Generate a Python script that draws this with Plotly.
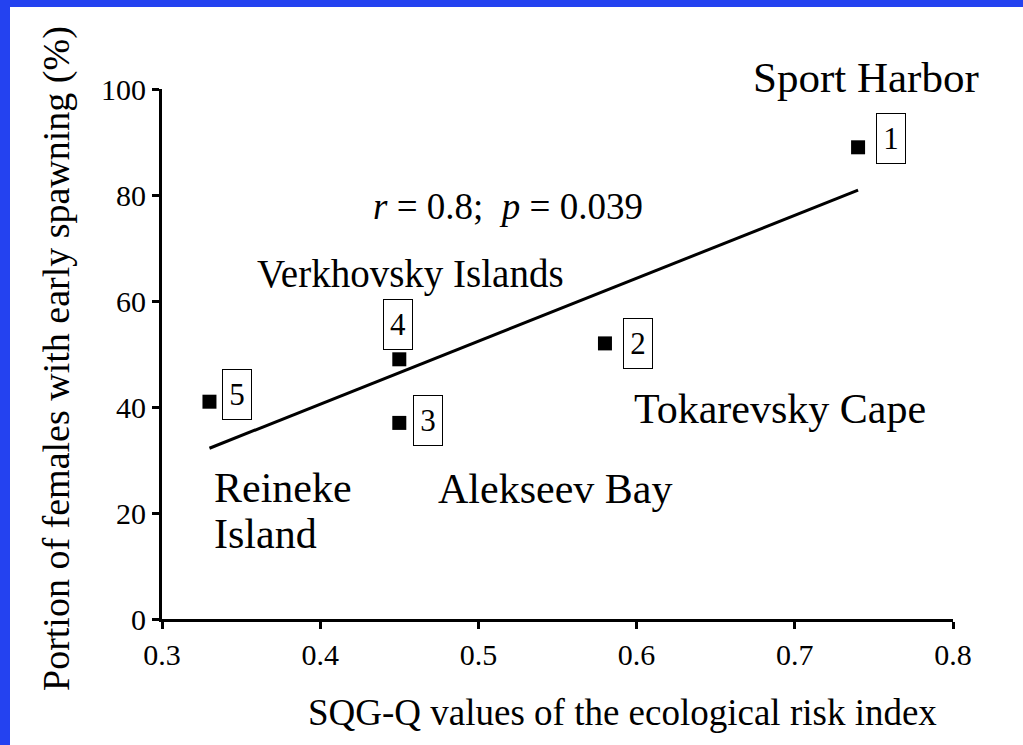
import numpy as np
import plotly.graph_objects as go

# ---- data ----
sqg_q = [0.74, 0.58, 0.45, 0.45, 0.33]          # SQG-Q values
early_spawning = [89.0, 52.0, 37.0, 49.0, 41.0]  # % females with early spawning
site_ids = ["1", "2", "3", "4", "5"]
site_names = ["Sport Harbor", "Tokarevsky Cape", "Alekseev Bay", "Verkhovsky Islands", "Reineke<br>Island"]
x_ticks = [0.3, 0.4, 0.5, 0.6, 0.7, 0.8]
y_ticks = [0, 20, 40, 60, 80, 100]

FONT = "'Liberation Serif', 'Times New Roman', 'DejaVu Serif', serif"

# linear fit from the data
slope, intercept = np.polyfit(sqg_q, early_spawning, 1)
fit_x = [min(sqg_q), max(sqg_q)]
fit_y = [slope * v + intercept for v in fit_x]

fig = go.Figure()
fig.add_trace(go.Scatter(x=fit_x, y=fit_y, mode="lines",
                         line=dict(color="black", width=3), hoverinfo="skip"))
fig.add_trace(go.Scatter(x=sqg_q, y=early_spawning, mode="markers",
                         marker=dict(symbol="square", size=14, color="black"),
                         cliponaxis=False))

# boxed site numbers (pixel offsets from their points)
box_offsets = {"1": (33, -9), "2": (33, 0), "3": (29, -2), "4": (-1, -35), "5": (28, -7)}
for xv, yv, sid in zip(sqg_q, early_spawning, site_ids):
    dx, dy = box_offsets[sid]
    fig.add_annotation(x=xv, y=yv, text=sid, showarrow=False, xshift=dx, yshift=-dy,
                       font=dict(family=FONT, size=31, color="black"),
                       bordercolor="black", borderwidth=1, borderpad=1,
                       width=26, height=47, xanchor="center", yanchor="middle")

# site name labels: (x, y, ref, anchor, size) -- Sport Harbor sits above the axis range -> paper ref
name_pos = {
    "Sport Harbor": ((866 - 162) / 791, (619 - 77) / 530, "paper", "center", 43),
    "Tokarevsky Cape": (0.6906, 39.6, "data", "center", 42),
    "Alekseev Bay": (0.5485, 24.6, "data", "center", 42),
    "Verkhovsky Islands": (0.457, 65.1, "data", "center", 39),
}
for nm in site_names:
    if nm in name_pos:
        xv, yv, ref, anc, fs = name_pos[nm]
        fig.add_annotation(x=xv, y=yv, xref="paper" if ref == "paper" else "x",
                           yref="paper" if ref == "paper" else "y",
                           text=nm, showarrow=False, xanchor=anc, yanchor="middle",
                           font=dict(family=FONT, size=fs, color="black"))
    else:
        # two-line label, drawn line by line for tighter spacing
        for line, yv in zip(nm.split("<br>"), [24.7, 16.0]):
            fig.add_annotation(x=0.3318, y=yv, text=line, showarrow=False,
                               xanchor="left", yanchor="middle",
                               font=dict(family=FONT, size=42, color="black"))

fig.add_annotation(x=0.519, y=77.8, text="<i>r</i> = 0.8;  <i>p</i> = 0.039", showarrow=False,
                   xanchor="center", yanchor="middle",
                   font=dict(family=FONT, size=37, color="black"))

# axis titles as annotations
fig.add_annotation(xref="paper", yref="paper", x=(622 - 162) / 791, y=(619 - 712) / 530,
                   text="SQG-Q values of the ecological risk index", showarrow=False,
                   xanchor="center", yanchor="middle",
                   font=dict(family=FONT, size=37, color="black"))
fig.add_annotation(xref="paper", yref="paper", x=(56 - 162) / 791, y=(619 - 359) / 530,
                   text="Portion of females with early spawning (%)", showarrow=False,
                   textangle=-90, xanchor="center", yanchor="middle",
                   font=dict(family=FONT, size=38, color="black"))

# blue frame on top and left edges
fig.add_shape(type="rect", xref="paper", yref="paper", x0=-162 / 791, x1=(1023 - 162) / 791,
              y0=(619 - 7) / 530, y1=619 / 530, fillcolor="#2442F0", line=dict(width=0), layer="below")
fig.add_shape(type="rect", xref="paper", yref="paper", x0=-162 / 791, x1=(10 - 162) / 791,
              y0=(619 - 745) / 530, y1=619 / 530, fillcolor="#2442F0", line=dict(width=0), layer="below")

axis_common = dict(showgrid=False, zeroline=False, showline=True, linecolor="black", linewidth=3,
                   ticks="outside", ticklen=7, tickwidth=3, tickcolor="black",
                   tickfont=dict(family=FONT, size=30, color="black"))
fig.update_xaxes(range=[0.3, 0.8], tickvals=x_ticks, ticktext=[f"{v:.1f}" for v in x_ticks],
                 **axis_common)
fig.update_yaxes(range=[0, 100], tickvals=y_ticks, **axis_common)

fig.update_layout(width=1023, height=745, showlegend=False,
                  margin=dict(l=162, r=70, t=89, b=126),
                  paper_bgcolor="white", plot_bgcolor="white",
                  font=dict(family=FONT, color="black"))

fig.write_html("out.html", config={"displayModeBar": False},
               post_script="document.body.style.margin='0';document.body.style.overflow='hidden';")
